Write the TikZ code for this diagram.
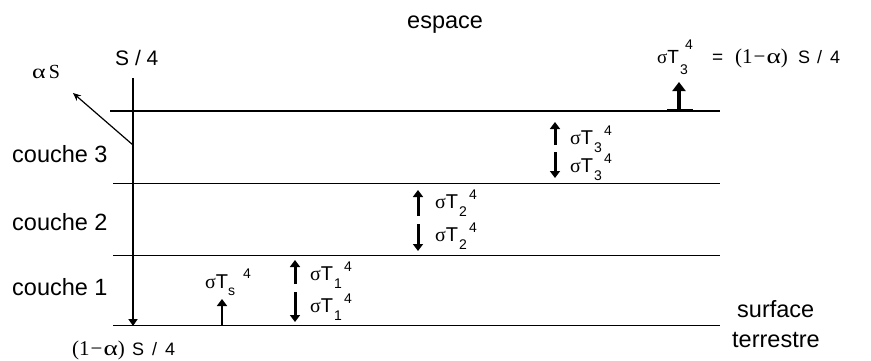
\documentclass[tikz,border=0pt]{standalone}
\usepackage{fontspec}
\usepackage{graphicx}
\setmainfont{Liberation Sans}
\newfontfamily\serif{Liberation Serif}
\usetikzlibrary{arrows.meta}
\newcommand{\scr}[1]{{\fontsize{14}{14}\selectfont #1}}
\newcommand{\alf}{{\serif\scalebox{1.3}[1]{α}}}
\newcommand{\sT}[1]{{\serif σ}T\hspace{1pt}\rlap{\raisebox{-8pt}{\scr{#1}}}\hspace{10pt}\raisebox{9pt}{\scr{4}}}
\begin{document}
\begin{tikzpicture}[x=1pt,y=-1pt,
  layer/.style={line width=1.5pt},
  lbl/.style={inner sep=0pt, anchor=base west, font=\fontsize{23.5}{23.5}\selectfont},
  sig/.style={inner sep=0pt, anchor=base west, font=\fontsize{20}{20}\selectfont},
  flux/.style={line width=3pt,-{Triangle[width=10pt,length=7pt]}},
  mainarrow/.style={line width=2.5pt,-{Triangle[width=9pt,length=7pt]}},
  reflarrow/.style={line width=1.2pt,-{Stealth[width=7pt,length=8pt]}}]
\useasboundingbox (0,0) rectangle (871,360);
% layer boundaries
\coordinate (l3a) at (110,111); \coordinate (l3b) at (720,111);
\coordinate (l2a) at (113,183.5); \coordinate (l2b) at (720,183.5);
\coordinate (l1a) at (113,255.5); \coordinate (l1b) at (720,255.5);
\coordinate (l0a) at (113,325.5); \coordinate (l0b) at (720,325.5);
\draw[layer] (l3a) -- (l3b);
\draw[layer] (l2a) -- (l2b);
\draw[layer] (l1a) -- (l1b);
\draw[layer] (l0a) -- (l0b);
% labels
\node[lbl] (espace) at (407,28) {espace};
\node[lbl,font=\fontsize{21}{21}\selectfont] (s4) at (115,65) {S / 4};
\node[lbl,font=\fontsize{20}{20}\selectfont] (aS) at (32,78) {\alf\hspace{3pt}{\serif S}};
\node[lbl] (c3) at (12,162) {couche 3};
\node[lbl] (c2) at (12,230) {couche 2};
\node[lbl] (c1) at (12,295) {couche 1};
\node[lbl,font=\fontsize{18}{18}\selectfont] (bot) at (72,355)
  {\makebox[60pt][l]{\fontsize{21}{21}\serif (1\hspace{1pt}−\hspace{1pt}\alf)}S\hspace{3pt} / \hspace{3pt}4};
\node[lbl] (surf) at (737,317) {surface};
\node[lbl] (terr) at (732,347) {terrestre};
\node[sig,font=\fontsize{19}{19}\selectfont] (eq) at (657,63)
  {\makebox[55pt][l]{{\serif σ}T\hspace{1pt}\rlap{\raisebox{-11pt}{\scr{3}}}\hspace{5pt}\raisebox{14pt}{\scr{4}}}\makebox[23pt][l]{=}\makebox[63pt][l]{\fontsize{21}{21}\serif (1\hspace{1pt}−\hspace{1pt}\alf)}\fontsize{18}{18}\selectfont S\hspace{2pt} / \hspace{3pt}4};
\node[sig] (ts) at (205,288) {{\serif σ}T\rlap{\raisebox{-7pt}{\scr{s}}}\hspace{15pt}\raisebox{10pt}{\scr{4}}};
\node[sig] (u1) at (310,280) {\sT{1}};
\node[sig] (d1) at (310,312) {\sT{1}};
\node[sig] (u2) at (435,208) {\sT{2}};
\node[sig] (d2) at (435,241) {\sT{2}};
\node[sig] (u3) at (570,144) {\sT{3}};
\node[sig] (d3) at (570,172) {\sT{3}};
% solar flux
\coordinate (sTop) at (133,78); \coordinate (sBot) at (133,326);
\draw[mainarrow] (sTop) -- (sBot);
\coordinate (rA) at (133,145); \coordinate (rB) at (73,93);
\draw[reflarrow] (rA) -- (rB);
% surface emission
\coordinate (tsA) at (222,325); \coordinate (tsB) at (222,299);
\draw[flux,line width=2.5pt] (tsA) -- (tsB);
% layer 1
\coordinate (u1a) at (295,284); \coordinate (u1b) at (295,260);
\coordinate (d1a) at (295,292); \coordinate (d1b) at (295,322);
\draw[flux] (u1a) -- (u1b); \draw[flux] (d1a) -- (d1b);
% layer 2
\coordinate (u2a) at (418,216); \coordinate (u2b) at (418,190);
\coordinate (d2a) at (418,224); \coordinate (d2b) at (418,251);
\draw[flux] (u2a) -- (u2b); \draw[flux] (d2a) -- (d2b);
% layer 3
\coordinate (u3a) at (555,145); \coordinate (u3b) at (555,122);
\coordinate (d3a) at (555,152); \coordinate (d3b) at (555,178);
\draw[flux] (u3a) -- (u3b); \draw[flux] (d3a) -- (d3b);
% top emission
\coordinate (ba) at (667,110); \coordinate (bb) at (693,110);
\draw[line width=3pt] (ba) -- (bb);
\coordinate (tA) at (679,110); \coordinate (tB) at (679,82);
\draw[line width=4pt,-{Triangle[width=13pt,length=9pt]}] (tA) -- (tB);
\end{tikzpicture}
\end{document}
